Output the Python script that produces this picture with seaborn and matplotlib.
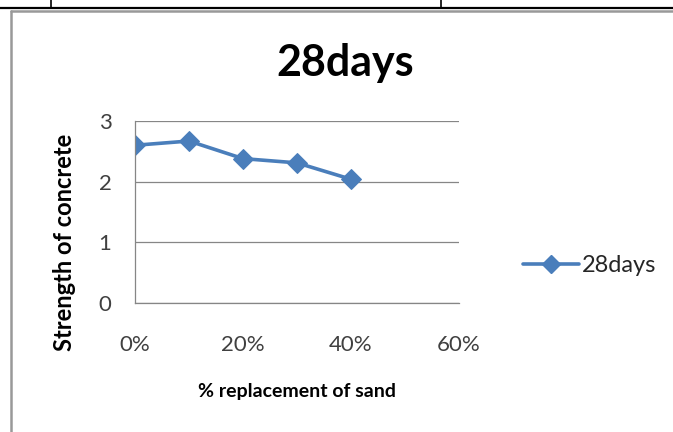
import matplotlib
matplotlib.use("Agg")
import matplotlib.pyplot as plt
from matplotlib.lines import Line2D
from matplotlib.ticker import FuncFormatter
import seaborn as sns
import pandas as pd

# Compressive strength after 28 days curing vs. sand replacement
replacement = [0.0, 0.1, 0.2, 0.3, 0.4]
strength_28days = [2.60, 2.67, 2.38, 2.31, 2.04]
series_name = "28days"
x_ticks = [0.0, 0.2, 0.4, 0.6]
y_ticks = [0, 1, 2, 3]

df = pd.DataFrame({"replacement": replacement, "strength": strength_28days,
                   "series": series_name})

sns.set_theme(style="white")
plt.rcParams["font.family"] = ["Lato", "DejaVu Sans"]

blue = "#4a7ebb"
grid_grey = "#868686"

fig = plt.figure(figsize=(6.73, 4.32), dpi=100)
ax = fig.add_axes([0.2006, 0.2986, 0.4814, 0.4213])

sns.lineplot(data=df, x="replacement", y="strength", hue="series",
             palette=[blue], marker="D", markersize=10, linewidth=2.6,
             markeredgecolor=blue, ax=ax, legend=False)

ax.set_xlim(0, 0.6)
ax.set_ylim(0, 3)
ax.set_xticks(x_ticks)
ax.set_yticks(y_ticks)
ax.xaxis.set_major_formatter(FuncFormatter(lambda v, p: f"{v * 100:.0f}%"))
ax.tick_params(axis="x", length=0, pad=23, labelsize=16, labelcolor="#404040")
ax.tick_params(axis="y", length=0, pad=17, labelsize=16, labelcolor="#404040")

ax.grid(axis="y", color=grid_grey, linewidth=0.9)
ax.grid(axis="x", visible=False)
for side in ("top", "right"):
    ax.spines[side].set_visible(False)
for side in ("left", "bottom"):
    ax.spines[side].set_color(grid_grey)
    ax.spines[side].set_linewidth(0.9)

ax.set_xlabel("% replacement of sand", fontsize=14, fontweight="bold",
              labelpad=20, color="black")
ax.set_ylabel("Strength of concrete", fontsize=17, fontweight="bold",
              color="black")
ax.yaxis.set_label_coords(-0.182, 0.335)

fig.text(0.513, 0.855, "28days", ha="center", va="center",
         fontsize=31, fontweight="bold", color="black")

handle = Line2D([0], [0], color=blue, linewidth=2.6, marker="D",
                markersize=9, markeredgecolor=blue)
fig.legend([handle], [series_name], loc="center left",
           bbox_to_anchor=(0.752, 0.385), frameon=False, fontsize=17,
           handlelength=2.4, handletextpad=0.1, borderpad=0.2)

# Surrounding table rule and chart frame
fig.add_artist(Line2D([0, 1], [1 - 7.5 / 432] * 2, color="black",
                      linewidth=1.6, transform=fig.transFigure))
fig.add_artist(Line2D([51 / 673] * 2, [1, 1 - 7.5 / 432], color="black",
                      linewidth=1.2, transform=fig.transFigure))
fig.add_artist(Line2D([441 / 673] * 2, [1, 1 - 7.5 / 432], color="black",
                      linewidth=1.2, transform=fig.transFigure))
fig.add_artist(Line2D([10.5 / 673, 1], [1 - 10.5 / 432] * 2, color="#999999",
                      linewidth=1.8, transform=fig.transFigure))
fig.add_artist(Line2D([11 / 673] * 2, [0, 1 - 10.5 / 432], color="#999999",
                      linewidth=1.8, transform=fig.transFigure))

fig.savefig("out.png", dpi=100)
